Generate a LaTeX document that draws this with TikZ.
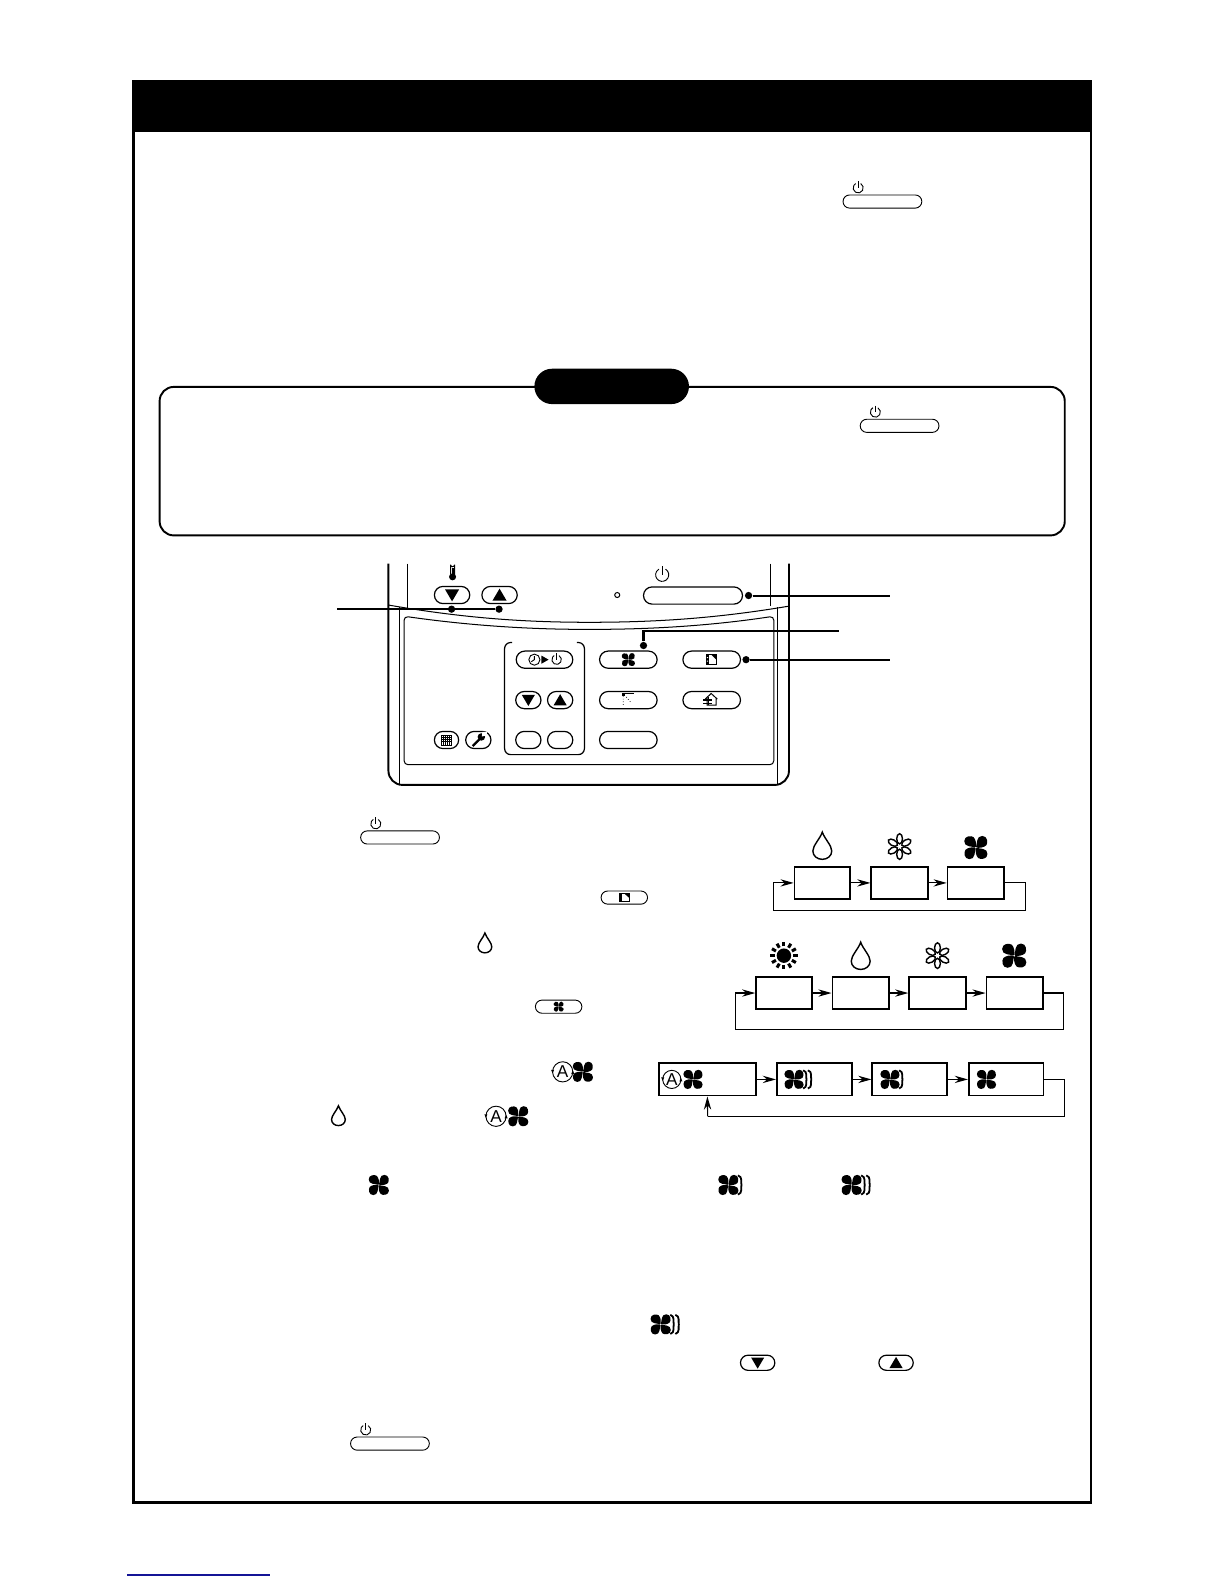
\documentclass[tikz,border=0pt]{standalone}
\usepackage{fontspec}
\setmainfont{Liberation Sans}
\usetikzlibrary{arrows.meta,shapes.misc}
\tikzset{
  x=0.5pt,y=-0.5pt,
  frameline/.style={line width=1.3pt,black},
  bodyline/.style={line width=0.95pt,black},
  thinline/.style={line width=0.5pt,black},
  leader/.style={line width=1pt,black},
  btnshape/.style={rounded rectangle,draw=black,line width=0.6pt,inner sep=0pt,fill=white},
  minibtn/.style={rounded rectangle,draw=black,line width=0.45pt,inner sep=0pt,fill=white},
  flowbox/.style={draw=black,line width=0.9pt,inner sep=0pt,fill=white},
  flowline/.style={line width=0.55pt,black,-{Stealth[length=6.5pt,width=3.6pt]}},
  loopline/.style={line width=0.55pt,black},
  dotnode/.style={circle,fill=black,inner sep=0pt,minimum size=3.6pt},
}
\newcommand\btn[6][btnshape]{\node[#1,minimum width=#5*0.5pt,minimum height=#6*0.5pt] (#2) at (#3,#4) {};}
\newcommand\fanicon[3]{\begin{scope}[shift={(#1,#2)},scale=#3,yscale=-1]
 \foreach \a in {0,90,180,270}{\fill[black,rotate=\a] (0,0) .. controls (-0.3,0.12) and (-1.02,0.02) .. (-1,0.55) .. controls (-1,1.02) and (-0.4,1.05) .. (-0.2,0.9) .. controls (0,0.7) and (0.06,0.3) .. (0,0) -- cycle;}
 \fill[white] (0,0) circle (0.07);
\end{scope}}
\newcommand\waveone[3]{\begin{scope}[shift={(#1,#2)},scale=#3,yscale=-1]
 \draw[black,line width=0.9pt] (0.95,0.95) .. controls (1.45,0.8) and (1.2,0.25) .. (1.3,0) .. controls (1.2,-0.25) and (1.45,-0.8) .. (0.95,-0.95);
\end{scope}}
\newcommand\wavetwo[3]{\begin{scope}[shift={(#1,#2)},scale=#3,yscale=-1]
 \draw[black,line width=0.9pt] (0.95,0.95) .. controls (1.45,0.8) and (1.2,0.25) .. (1.3,0) .. controls (1.2,-0.25) and (1.45,-0.8) .. (0.95,-0.95);
 \draw[black,line width=0.9pt] (1.45,0.95) .. controls (1.95,0.8) and (1.7,0.25) .. (1.8,0) .. controls (1.7,-0.25) and (1.95,-0.8) .. (1.45,-0.95);
\end{scope}}
\newcommand\dropicon[3]{\begin{scope}[shift={(#1,#2)},scale=#3,yscale=-1]
 \draw[black,line width=0.7pt,fill=white] (0,1.3) .. controls (0.2,0.7) and (0.85,0.1) .. (0.85,-0.4) .. controls (0.85,-0.85) and (0.45,-1.15) .. (0,-1.15) .. controls (-0.45,-1.15) and (-0.85,-0.85) .. (-0.85,-0.4) .. controls (-0.85,0.1) and (-0.2,0.7) .. (0,1.3) -- cycle;
\end{scope}}
\newcommand\snowicon[3]{\begin{scope}[shift={(#1,#2)},scale=#3]
 \foreach \a in {90,30,-30,-90,-150,150}{\draw[black,line width=0.7pt,fill=white,rotate=\a] (0.64,0) ellipse[x radius=0.42,y radius=0.24];}
\end{scope}}
\newcommand\sunicon[3]{\begin{scope}[shift={(#1,#2)},scale=#3]
 \fill[black] (0,0) circle (0.55);
 \foreach \a in {0,30,...,330}{\draw[black,line width=1.5pt,rotate=\a] (0.7,0) -- (1.05,0);}
\end{scope}}
\newcommand\pwr[3]{\begin{scope}[shift={(#1,#2)},scale=#3,yscale=-1]
 \draw[black,line width=0.45pt] (60:1) arc[start angle=60,end angle=-240,radius=1];
 \draw[black,line width=0.45pt] (0,1.3) -- (0,0);
\end{scope}}
\newcommand\autoicon[3]{\begin{scope}[shift={(#1,#2)}]
 \draw[black,line width=0.45pt] (0,0) circle (#3);
 \fill[black] (-#3-1.5,-2) -- (-#3+1.5,-2) -- (-#3,1.5) -- cycle;
 \fill[black] (#3-1.5,2) -- (#3+1.5,2) -- (#3,-1.5) -- cycle;
 \node[inner sep=0pt,font=\fontsize{8.5}{8.5}\selectfont] (autoA#1) at (0,0) {A};
\end{scope}}
\newcommand\tridown[3]{\fill[black] (#1-#3,#2-0.8*#3) -- (#1+#3,#2-0.8*#3) -- (#1,#2+0.9*#3) -- cycle;}
\newcommand\triup[3]{\fill[black] (#1-#3,#2+0.8*#3) -- (#1+#3,#2+0.8*#3) -- (#1,#2-0.9*#3) -- cycle;}
\newcommand\minipower[2]{\btn[minibtn]{mp#1}{#1}{#2}{78}{13}\pwr{#1-24}{#2-13.5}{5}}
\begin{document}
\begin{tikzpicture}
\useasboundingbox (0,0) rectangle (1212,1568);
\fill[white] (0,0) rectangle (1212,1568);
% page frame and header
\draw[frameline] (132,80) rectangle (1080,1487);
\fill[black] (131,79.5) rectangle (1081,131);
% caution box
\draw[line width=0.95pt,rounded corners=7pt] (158,383) rectangle (1054,530);
\node[fill=black,rounded rectangle,inner sep=0pt,minimum width=76.5pt,minimum height=17.5pt] (pill) at (605.5,382.5) {};
% inline power buttons
\minipower{873.5}{199.5}
\minipower{890.5}{421.5}
\minipower{396}{829}
\minipower{386}{1429}
% remote body
\draw[bodyline,rounded corners=7pt] (384.5,558) -- (384.5,777) -- (781,777) -- (781,558);
\draw[thinline] (403,558) -- (403,604);
\draw[thinline] (395,601) -- (395,777);
\draw[thinline] (763,558) -- (763,600);
\draw[thinline] (770,601) -- (770,777);
\draw[thinline] (385,599) .. controls (460,612) and (520,616) .. (583,616) .. controls (650,616) and (710,612) .. (781,600);
\draw[thinline,rounded corners=2pt] (400,610) .. controls (470,620) and (530,623) .. (583,623) .. controls (640,623) and (700,620) .. (766,610) -- (766,757) -- (400,757) -- cycle;
% thermometer
\draw[black,line width=0.5pt] (446,559) -- (446,568) (450,559) -- (450,568) (446,559) arc[start angle=180,end angle=0,radius=2];
\fill[black] (448,571) circle (3.5);
\fill[black] (447,562) rectangle (449,570);
% upper buttons
\btn{tdown}{447.5}{589}{35}{17}\tridown{447.5}{589}{7}
\btn{tup}{494.5}{589}{35}{17}\triup{494.5}{589}{7}
\draw[black,line width=0.5pt] (611,589) circle (2.5);
\btn{power}{686}{589.5}{98}{17}
\pwr{655.5}{569}{6.5}
% lower bracket
\draw[bodyline,line width=0.6pt,rounded corners=3pt] (507,636) -- (499.5,636) -- (499.5,747) -- (578.5,747) -- (578.5,636) -- (571,636);
\btn{timer}{539}{653}{56}{17}
\draw[black,line width=0.45pt] (529,653) circle (5.5) (529,649.5) -- (529,653) -- (526,655);
\fill[black] (536,649) -- (536,657) -- (543,653) -- cycle;
\pwr{551}{653}{4.7}
\btn{cdown}{523}{693}{25}{17}\tridown{523}{693}{6.5}
\btn{cup}{554.5}{693}{25}{17}\triup{554.5}{693}{6.5}
\btn{blanka}{523}{732.5}{25}{17}
\btn{blankb}{554.5}{732.5}{25}{17}
\btn{fanbtn}{622}{653}{57}{17}\fanicon{622}{653}{6.5}
\btn{modebtn}{704.5}{653}{57}{17}
\draw[black,line width=0.45pt] (699,648) rectangle (709,658);
\fill[black] (699,648) rectangle (702,658);
\fill[black] (704,648) -- (709,648) -- (709,653) -- cycle;
\fill[white] (699.7,650.5) rectangle (701,651.5) (699.7,654) rectangle (701,655);
\btn{swingbtn}{622}{693}{57}{17}
\fill[black] (616,686) rectangle (619,689);
\draw[black,line width=0.35pt] (619,686) -- (628,686);
\draw[black,line width=0.35pt,densely dotted] (617,689) -- (617,699) (620,690) -- (625,696);
\btn{ventbtn}{704.5}{693}{57}{17}
\draw[black,line width=0.5pt] (698,692) -- (704,686.5) -- (710,692) (700,690) -- (700,698) -- (709,698) -- (709,691);
\draw[black,line width=0.6pt] (696,693) -- (705,693) (696,696) -- (705,696) (701,690) -- (701,698);
\btn{blankc}{622}{732.5}{57}{17}
\btn{gridbtn}{442}{732.5}{24}{17}
\draw[black,line width=0.35pt] (437,728) rectangle (447,738);
\foreach \t in {439,441,443,445}{\draw[black,line width=0.35pt] (\t,728) -- (\t,738) (437,\t+289) -- (447,\t+289);}
\btn{wrenchbtn}{473.5}{732.5}{25}{17}
\draw[black,line width=1.15pt] (468,738.5) -- (475,731.5);
\fill[black] (476.5,729.5) circle (3.7);
\fill[white] (477,729) -- (477.5,724.5) -- (482,724.5) -- (482,728) -- cycle;
% leaders
\node[dotnode] (d1) at (447,603) {};
\node[dotnode] (d2) at (494,603) {};
\coordinate (l1) at (334,603);
\draw[leader] (l1) -- (d2);
\node[dotnode] (d3) at (741,589.5) {};
\coordinate (l3) at (881,589.5);
\draw[leader] (d3) -- (l3);
\node[dotnode] (d4) at (637,639) {};
\coordinate (l4) at (830.5,625);
\draw[leader] (d4) |- (l4);
\node[dotnode] (d5) at (738.5,653) {};
\coordinate (l5) at (881,653);
\draw[leader] (d5) -- (l5);
% inline icons
\btn[minibtn]{imode}{618}{888.5}{46}{13}
\draw[black,line width=0.35pt] (613.5,884.5) rectangle (622.5,892.5);
\fill[black] (613.5,884.5) rectangle (616,892.5);
\fill[black] (618,884.5) -- (622.5,884.5) -- (622.5,888.5) -- cycle;
\btn[minibtn]{ifan}{553}{996.5}{46}{13}\fanicon{553}{996.5}{5}
\dropicon{480}{934}{8}
\autoicon{557}{1061}{10}\fanicon{577}{1061}{10}
\dropicon{335}{1105}{8}
\autoicon{491}{1105}{10}\fanicon{513}{1105}{10}
\fanicon{375}{1173}{10}
\fanicon{721}{1173}{10}\waveone{721}{1173}{10}
\fanicon{843}{1173}{10}\wavetwo{843}{1173}{10}
\fanicon{654}{1311}{10}\wavetwo{654}{1311}{10}
\btn{bdown}{750}{1349}{34}{15}\tridown{750}{1349}{6.5}
\btn{bup}{887}{1349}{34}{15}\triup{887}{1349}{6.5}
% flow 1
\dropicon{814}{838}{11}\snowicon{890.5}{838}{12}\fanicon{966}{839}{11.5}
\node[flowbox,minimum width=27.5pt,minimum height=16pt] (a1) at (814,874) {};
\node[flowbox,minimum width=28pt,minimum height=16pt] (a2) at (890.5,874) {};
\node[flowbox,minimum width=28pt,minimum height=16pt] (a3) at (966,874) {};
\coordinate (a4) at (1015,874);
\coordinate (a5) at (1015,901);
\coordinate (a6) at (765.5,901);
\coordinate (a7) at (765.5,874);
\draw[flowline] (a1) -- (a2);
\draw[flowline] (a2) -- (a3);
\draw[loopline] (a3) -- (a4) -- (a5) -- (a6) -- (a7);
\draw[flowline] (a7) -- (a1);
% flow 2
\sunicon{776}{946}{13}\dropicon{852}{947}{11}\snowicon{928}{946}{12}\fanicon{1004}{946}{12}
\node[flowbox,minimum width=27.5pt,minimum height=16pt] (b1) at (776,983) {};
\node[flowbox,minimum width=28pt,minimum height=16pt] (b2) at (852,983) {};
\node[flowbox,minimum width=28pt,minimum height=16pt] (b3) at (928,983) {};
\node[flowbox,minimum width=28pt,minimum height=16pt] (b4) at (1004.5,983) {};
\coordinate (b5) at (1053,983);
\coordinate (b6) at (1053,1019.5);
\coordinate (b7) at (728,1019.5);
\coordinate (b8) at (728,983);
\draw[flowline] (b1) -- (b2);
\draw[flowline] (b2) -- (b3);
\draw[flowline] (b3) -- (b4);
\draw[loopline] (b4) -- (b5) -- (b6) -- (b7) -- (b8);
\draw[flowline] (b8) -- (b1);
% flow 3
\node[flowbox,minimum width=48pt,minimum height=16pt] (c1) at (700,1068.5) {};
\node[flowbox,minimum width=37pt,minimum height=16pt] (c2) at (806,1068.5) {};
\node[flowbox,minimum width=37pt,minimum height=16pt] (c3) at (900.5,1068.5) {};
\node[flowbox,minimum width=37pt,minimum height=16pt] (c4) at (996,1068.5) {};
\coordinate (c5) at (1054,1068.5);
\coordinate (c6) at (1054,1105);
\coordinate (c7) at (700.5,1105);
\draw[flowline] (c1) -- (c2);
\draw[flowline] (c2) -- (c3);
\draw[flowline] (c3) -- (c4);
\draw[loopline] (c4) -- (c5) -- (c6) -- (c7);
\draw[flowline] (c7) -- (c1);
\autoicon{665}{1068.5}{9}\fanicon{686}{1068.5}{9.5}
\fanicon{786}{1068.5}{9.5}\wavetwo{786}{1068.5}{9.5}
\fanicon{881}{1068.5}{9.5}\waveone{881}{1068.5}{9.5}
\fanicon{976.5}{1068.5}{9.5}
% bottom rule
\draw[line width=0.6pt,color={rgb,255:red,20;green,20;blue,150}] (126,1559) -- (267,1559);
\end{tikzpicture}
\end{document}
